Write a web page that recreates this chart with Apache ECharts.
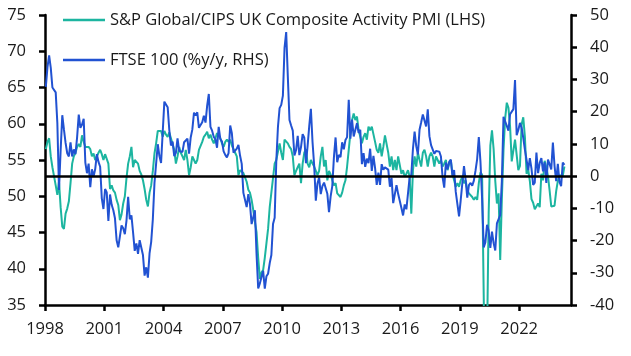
<!DOCTYPE html>
<html><head><meta charset="utf-8">
<script src="https://cdn.jsdelivr.net/npm/echarts@6/dist/echarts.min.js"></script>
<style>html,body{margin:0;padding:0;background:#fff}#c{width:631px;height:356px}</style>
</head><body><div id="c"></div>
<script>
// Monthly data, Jan 1998 .. Apr 2024
const startYear = 1998;
const xTickYears = [1998, 2001, 2004, 2007, 2010, 2013, 2016, 2019, 2022];
const leftTicks = [35, 40, 45, 50, 55, 60, 65, 70, 75];
const rightTicks = [-40, -30, -20, -10, 0, 10, 20, 30, 40, 50];
const seriesNames = ['S&P Global/CIPS UK Composite Activity PMI (LHS)', 'FTSE 100 (%y/y, RHS)'];

const pmi = [
  56.5, 57.5, 58.0, 55.5, 54.0, 53.8, 51.5, 50.2, 52.0, 48.5, 45.8, 45.5, // 1998
  47.6, 48.3, 49.3, 51.8, 54.5, 55.5, 56.0, 56.8, 57.2, 56.8, 58.4, 57.5, // 1999
  56.8, 57.0, 56.8, 56.5, 55.5, 55.9, 55.0, 55.5, 56.0, 56.4, 55.8, 55.0, // 2000
  55.8, 56.0, 54.5, 51.0, 51.5, 50.8, 50.5, 49.5, 48.8, 46.7, 47.5, 49.0, // 2001
  50.0, 52.5, 54.5, 55.5, 56.8, 54.0, 55.0, 54.8, 54.5, 53.5, 53.0, 52.2, // 2002
  51.0, 49.5, 48.6, 50.5, 51.5, 53.5, 55.9, 57.3, 59.0, 58.8, 59.0, 58.2, // 2003
  59.0, 58.5, 58.2, 58.8, 58.0, 57.8, 56.4, 54.5, 55.5, 56.8, 56.0, 55.5, // 2004
  55.0, 56.4, 55.0, 52.9, 54.0, 55.5, 55.0, 54.5, 55.0, 56.4, 56.5, 57.5, // 2005
  58.2, 58.5, 58.9, 58.0, 58.5, 57.8, 57.3, 58.0, 58.7, 58.5, 58.0, 57.3, // 2006
  56.8, 57.5, 57.8, 57.5, 57.8, 57.0, 56.8, 56.0, 55.5, 52.9, 53.6, 53.6, // 2007
  53.2, 53.4, 52.0, 50.9, 50.5, 49.5, 48.1, 46.5, 45.0, 41.5, 38.6, 39.5, // 2008
  39.8, 41.5, 43.5, 45.5, 48.5, 50.5, 52.5, 54.5, 55.0, 54.8, 57.3, 56.0, // 2009
  55.0, 57.8, 57.6, 57.3, 56.8, 56.5, 55.5, 52.9, 53.5, 54.0, 54.5, 51.8, // 2010
  54.5, 56.0, 56.5, 54.5, 54.0, 55.0, 54.5, 54.1, 53.5, 52.9, 53.5, 55.5, // 2011
  56.8, 54.1, 55.0, 52.2, 53.5, 53.0, 52.2, 51.5, 51.8, 50.4, 50.2, 49.9, // 2012
  50.5, 51.5, 52.2, 54.1, 56.4, 58.7, 60.5, 61.4, 60.5, 61.0, 59.1, 58.2, // 2013
  57.3, 58.2, 58.7, 57.8, 59.6, 59.1, 59.6, 59.6, 57.5, 56.4, 56.0, 57.3, // 2014
  55.5, 56.8, 58.4, 58.2, 56.0, 54.1, 55.5, 53.6, 55.0, 53.6, 55.5, 55.5, // 2015
  53.1, 53.6, 52.7, 53.1, 53.6, 52.7, 47.6, 53.6, 55.5, 54.1, 56.0, 55.0, // 2016
  54.1, 56.0, 56.4, 55.5, 54.1, 55.5, 56.0, 55.5, 54.1, 55.5, 55.0, 54.5, // 2017
  55.0, 54.1, 54.5, 55.0, 53.6, 54.5, 55.0, 53.1, 52.2, 51.3, 51.8, 51.3, // 2018
  52.2, 52.7, 51.8, 52.2, 50.9, 50.4, 50.6, 49.9, 49.5, 49.9, 49.5, 51.8, // 2019
  53.3, 53.0, 36.0, 13.8, 30.0, 47.7, 57.0, 59.1, 56.5, 52.1, 49.0, 50.4, // 2020
  41.2, 49.6, 56.4, 60.7, 62.9, 62.2, 59.6, 54.8, 54.9, 57.8, 57.6, 53.6, // 2021
  54.2, 59.9, 60.9, 58.2, 53.1, 53.7, 52.1, 49.6, 49.1, 48.2, 48.2, 49.0, // 2022
  48.5, 53.1, 52.2, 54.9, 54.0, 52.8, 50.8, 48.6, 48.5, 48.7, 50.7, 52.1, // 2023
  52.9, 53.0, 52.8, 54.1                                                  // 2024
];

const ftse = [
  27.7, 33.8, 37.5, 33.6, 27.5, 27.0, 26.0, 16.5, -4.3, 8.0, 18.9, 14.5, // 1998
  10.3, 7.1, 6.1, 10.5, 6.1, 8.3, 6.8, 12.0, 19.1, 15.0, 16.0, 17.8, // 1999
  4.2, 0.9, 3.9, -3.4, 2.1, -0.1, 2.2, 6.8, 4.4, 2.9, -6.9, -10.2, // 2000
  -4.0, -5.1, -13.9, -5.7, -8.9, -10.6, -13.1, -19.9, -22.1, -21.7, -15.3, -16.2, // 2001
  -18.0, -13.8, -6.4, -13.4, -12.2, -17.5, -23.2, -20.9, -24.1, -19.9, -19.9, -24.5, // 2002
  -30.9, -28.3, -31.5, -24.0, -20.4, -13.4, -2.1, -1.6, 9.9, 6.2, 4.1, 13.6, // 2003
  23.1, 22.9, 21.4, 14.3, 9.5, 10.7, 6.2, 7.2, 11.7, 7.8, 8.3, 7.5, // 2004
  10.5, 10.6, 11.6, 7.0, 12.0, 14.5, 19.7, 18.8, 19.8, 15.0, 15.3, 16.7, // 2005
  18.7, 16.6, 21.9, 25.5, 15.3, 14.1, 12.2, 11.5, 8.8, 15.3, 11.5, 10.7, // 2006
  7.7, 6.6, 5.8, 7.1, 15.7, 13.3, 7.3, 6.7, 8.5, 9.7, 6.3, 3.8, // 2007
  -5.2, -4.7, -9.6, -5.6, -8.6, -14.9, -14.9, -10.6, -24.2, -34.9, -33.3, -31.3, // 2008
  -29.4, -34.9, -31.1, -30.3, -27.0, -24.5, -14.9, -12.9, 4.7, 15.3, 21.1, 22.1, // 2009
  25.0, 39.8, 44.7, 30.8, 17.4, 15.7, 14.1, 6.4, 8.1, 12.5, 6.5, 9.0, // 2010
  13.0, 11.9, 4.0, 9.3, 15.5, 20.9, 10.6, 3.3, -7.6, -2.3, -0.4, -5.6, // 2011
  -3.1, -2.0, -2.4, -5.5, -11.2, -6.3, -3.1, 5.9, 12.0, 4.3, 6.6, 5.9, // 2012
  10.5, 8.3, 11.2, 12.1, 23.7, 11.6, 17.5, 12.3, 12.5, 16.4, 13.4, 14.4, // 2013
  3.7, 7.1, 2.9, 5.4, 4.0, 8.5, 1.6, 6.3, 2.5, -2.7, 1.1, -2.7, // 2014
  3.7, 2.0, 2.7, 2.7, 2.0, -3.3, -0.5, -8.4, -8.5, -2.8, -5.5, -4.9, // 2015
  -9.9, -12.2, -8.8, -10.3, -10.8, -0.3, 0.4, 8.5, 13.8, 9.3, 6.7, 14.4, // 2016
  16.7, 19.1, 18.6, 15.4, 20.7, 12.4, 9.6, 9.6, 6.9, 7.8, 8.0, 7.6, // 2017
  6.1, -0.4, -3.6, 4.2, 2.1, 4.4, 5.1, 0.0, 1.9, -4.9, -4.7, -12.5, // 2018
  -7.5, -2.2, 3.1, -1.2, -6.7, -2.8, -2.1, -3.0, -1.4, 1.7, 5.3, 12.1, // 2019
  4.5, -7.0, -22.1, -20.5, -15.1, -16.9, -22.3, -17.2, -20.8, -23.1, -14.7, -14.3, // 2020
  -12.1, -1.5, 18.4, 18.1, 15.6, 14.1, 19.2, 19.4, 20.8, 29.8, 12.7, 14.3, // 2021
  16.5, 15.0, 11.9, 8.2, 8.3, 1.9, 5.6, 2.3, -2.7, -2.0, 7.3, 0.9, // 2022
  4.1, 5.6, 1.5, 4.3, -2.1, 5.1, 3.7, 2.1, 10.4, 3.2, -1.6, 3.8, // 2023
  -1.8, -3.1, 4.2, 3.5 // 2024
];

// month positions (mid-month) in year units
function monthPos(i) { return startYear + (i + 0.5) / 12; }

const FONT = 'Open Sans';
const TXT = '#1a1a1a';
const TEAL = '#1cb5a0';
const BLUE = '#2152d2';
const chart = echarts.init(document.getElementById('c'), null, {renderer: 'canvas'});
chart.setOption({
  animation: false,
  backgroundColor: '#fff',
  textStyle: {fontFamily: FONT},
  grid: {left: 45, right: 60, top: 15, bottom: 51, containLabel: false},
  legend: {
    orient: 'vertical', left: 58, top: 5,
    icon: 'rect',
    itemWidth: 42, itemHeight: 2.5, itemGap: 20,
    textStyle: {fontSize: 16.5, color: TXT, fontFamily: FONT, lineHeight: 20},
    data: [
      {name: seriesNames[0], itemStyle: {color: TEAL}},
      {name: seriesNames[1], itemStyle: {color: BLUE}}
    ]
  },
  xAxis: {
    type: 'value', min: 1998, max: 2024.625,
    axisLine: {onZero: false, lineStyle: {color: '#000', width: 2.5}},
    axisTick: {show: true, customValues: xTickYears, length: 6, lineStyle: {color: '#000', width: 2.5}},
    axisLabel: {customValues: xTickYears, margin: 16, fontSize: 16.5, color: TXT, fontFamily: FONT,
      formatter: v => String(Math.round(v))},
    splitLine: {show: false}
  },
  yAxis: [{
    type: 'value', min: 35, max: 75, interval: 5, position: 'left',
    axisLine: {show: true, onZero: false, lineStyle: {color: '#000', width: 2.5}},
    axisTick: {show: true, length: 6, lineStyle: {color: '#000', width: 2.5}},
    axisLabel: {margin: 19, fontSize: 16.5, color: TXT, fontFamily: FONT},
    splitLine: {show: false}
  }, {
    type: 'value', min: -40, max: 50, interval: 10, position: 'right',
    axisLine: {show: true, onZero: false, lineStyle: {color: '#000', width: 2.5}},
    axisTick: {show: true, length: 6, lineStyle: {color: '#000', width: 2.5}},
    axisLabel: {margin: 19, fontSize: 16.5, color: TXT, fontFamily: FONT},
    splitLine: {show: false}
  }],
  series: [{
    name: seriesNames[0], type: 'line', yAxisIndex: 0,
    symbol: 'none', clip: true,
    lineStyle: {color: TEAL, width: 2},
    itemStyle: {color: TEAL},
    data: pmi.map((v, i) => [monthPos(i), v])
  }, {
    name: seriesNames[1], type: 'line', yAxisIndex: 1,
    symbol: 'none', clip: true,
    lineStyle: {color: BLUE, width: 2},
    itemStyle: {color: BLUE},
    data: ftse.map((v, i) => [monthPos(i), v]),
    markLine: {
      silent: true, symbol: ['none', 'none'], label: {show: false},
      lineStyle: {color: '#000', width: 2.5, type: 'solid'},
      data: [{yAxis: 0}]
    }
  }]
});
</script>
</body></html>
